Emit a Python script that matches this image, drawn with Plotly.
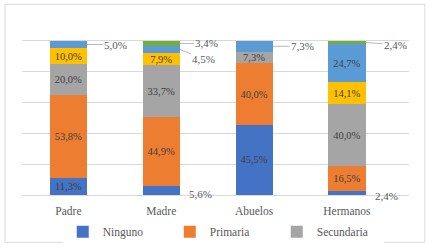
import plotly.graph_objects as go

categories = ["Padre", "Madre", "Abuelos", "Hermanos"]
series_names = ["Ninguno", "Primaria", "Secundaria", "Bachillerato", "Universidad", "Posgrado"]
ninguno = [11.3, 5.6, 45.5, 2.4]
primaria = [53.8, 44.9, 40.0, 16.5]
secundaria = [20.0, 33.7, 7.3, 40.0]
bachillerato = [10.0, 7.9, 0.0, 14.1]
universidad = [5.0, 4.5, 7.3, 24.7]
posgrado = [0.0, 3.4, 0.0, 2.4]
values = [ninguno, primaria, secundaria, bachillerato, universidad, posgrado]
colors = ["#4472C4", "#ED7D31", "#A5A5A5", "#FFC000", "#5B9BD5", "#70AD47"]
legend_shown = [True, True, True, False, False, False]

# labels drawn outside the bars: (series index, category index, ax, ay, with leader)
outside = [(4, 0, 29, 0, True), (5, 1, 27, 0, True), (4, 1, 24, 9, True),
           (0, 1, 0, 0, False), (4, 2, 30, 0, True), (5, 3, 30, 2, True),
           (0, 3, 0, 0, False)]
outside_keys = {(s, c) for s, c, *_ in outside}

FONT = "Liberation Serif"
TXT = "#595959"

def fmt(v):
    return f"{v:.1f}".replace(".", ",") + "%"

fig = go.Figure()
for si, (name, vals, col) in enumerate(zip(series_names, values, colors)):
    texts = []
    for ci, v in enumerate(vals):
        if v <= 0 or (si, ci) in outside_keys:
            texts.append("")
        else:
            texts.append(fmt(v))
    fig.add_trace(go.Bar(
        name=name, x=categories, y=vals, marker_color=col,
        marker_line_width=0, text=texts, textposition="inside",
        insidetextanchor="middle", textangle=0, cliponaxis=False,
        textfont=dict(family=FONT, size=10.5, color="#404040"),
        showlegend=legend_shown[si], hoverinfo="skip",
    ))

half = 0.2
for si, ci, ax, ay, leader in outside:
    base = sum(values[k][ci] for k in range(si))
    mid = base + values[si][ci] / 2
    if leader:
        fig.add_annotation(x=ci + half, y=mid, xref="x", yref="y",
                           text=fmt(values[si][ci]), showarrow=True,
                           arrowhead=0, arrowwidth=0.8, arrowcolor="#A6A6A6",
                           axref="pixel", ayref="pixel", ax=ax, ay=ay,
                           font=dict(family=FONT, size=11, color=TXT))
    else:
        fig.add_annotation(x=ci + half, y=mid, xref="x", yref="y",
                           text=fmt(values[si][ci]), showarrow=False,
                           xanchor="left", xshift=7, yshift=-3,
                           font=dict(family=FONT, size=11, color=TXT))

fig.add_shape(type="rect", xref="paper", yref="paper",
              x0=-0.044, x1=1.041, y0=-0.256, y1=1.031,
              line=dict(color="#D9D9D9", width=1), fillcolor="rgba(0,0,0,0)")

fig.update_layout(
    width=432, height=248, barmode="stack", bargap=0.6,
    paper_bgcolor="white", plot_bgcolor="white",
    margin=dict(l=22, r=23, t=10, b=53, autoexpand=False),
    font=dict(family=FONT, size=11, color=TXT),
    uniformtext=dict(minsize=10.5, mode="show"),
    legend=dict(orientation="h", x=0.52, xanchor="center", y=-0.12,
                yanchor="top", traceorder="normal",
                font=dict(family=FONT, size=11.5, color=TXT),
                entrywidth=62, itemwidth=30),
)
fig.update_xaxes(showline=True, linecolor="#D9D9D9", linewidth=1,
                 tickfont=dict(family=FONT, size=11.5, color=TXT), ticks="",
                 ticklabelstandoff=5)
fig.update_yaxes(range=[0, 120], dtick=20, showticklabels=False,
                 gridcolor="#D9D9D9", gridwidth=1, zeroline=False)

fig.write_html("out.html", config={"displayModeBar": False},
               post_script="document.body.style.margin='0';")
